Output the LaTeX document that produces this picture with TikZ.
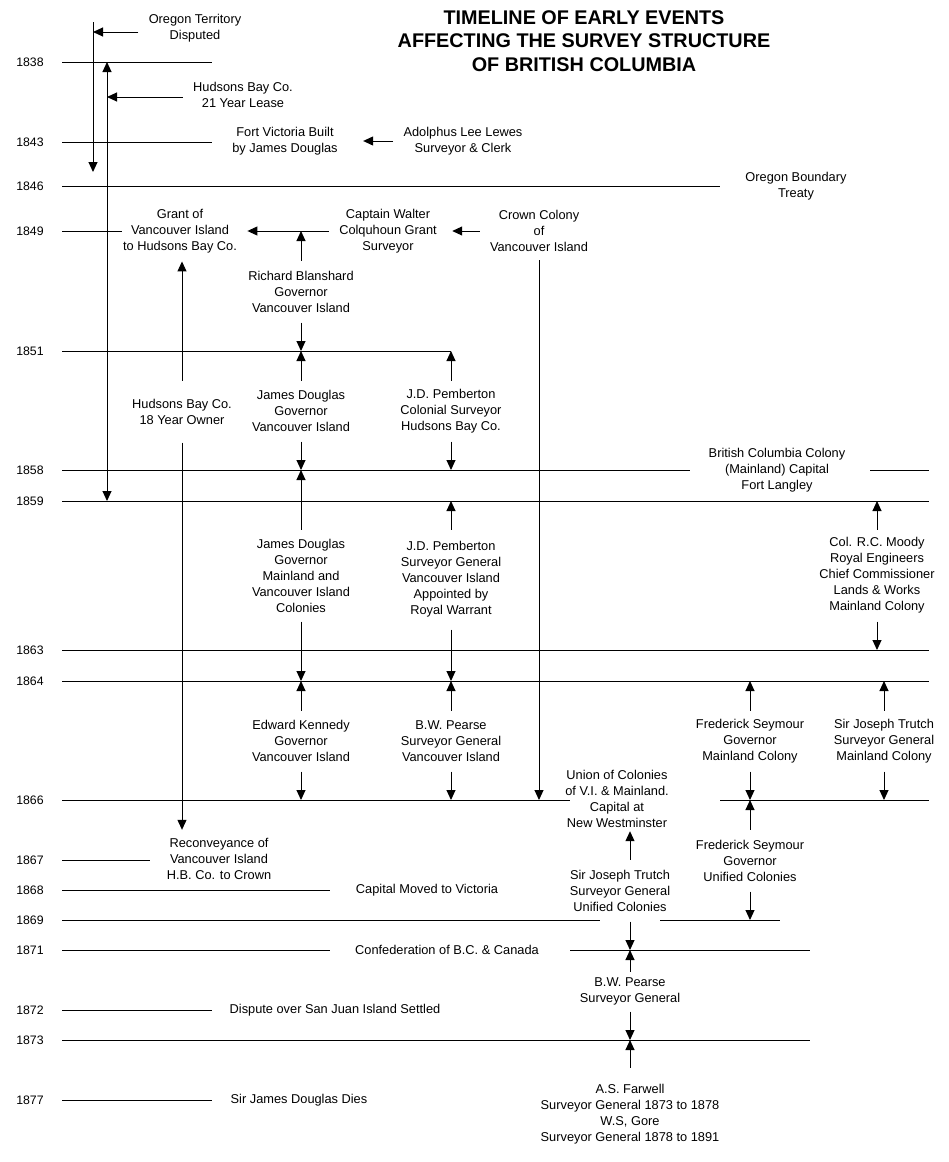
\documentclass[tikz,border=0pt]{standalone}
\usepackage{fontspec}
\setmainfont{Liberation Sans}
\usepackage{tikz}
\usetikzlibrary{arrows.meta}
\tikzset{
    event/.style = {
        align      = center,
        font       = \fontsize{12.8}{16}\selectfont,
        inner xsep = 10pt,
        inner ysep = 8pt,
    },
    tenure/.style = {
        event,
        inner ysep     = 2pt,
        minimum height = #1,
    },
    year/.style = {
        font      = \fontsize{12.3}{14}\selectfont,
        inner sep = 0pt,
    },
    headline/.style = {
        align = center,
        font  = \fontsize{19.8}{23.5}\selectfont\bfseries,
    },
    >={Triangle[length=10pt,width=9pt]},
}

\begin{document}
\begin{tikzpicture}[x=1pt,y=-1pt,line width=1pt]
  \fill[white] (0,0) rectangle (949,1162);
  \useasboundingbox (0,0) rectangle (949,1162);

  % Title
  \node[headline] (Title) at (584,41) {TIMELINE OF EARLY EVENTS\\AFFECTING THE SURVEY STRUCTURE\\OF BRITISH COLUMBIA};

  % Years
  \foreach \yr/\yy in {1838/62, 1843/142, 1846/186, 1849/231, 1851/351, 1858/470,
      1859/501, 1863/650, 1864/681, 1866/800, 1867/860, 1868/890, 1869/920,
      1871/950, 1872/1010, 1873/1040, 1877/1100}
    \node[year] (Y\yr) at (30,\yy) {\yr};

  % Year rules
  \foreach \yr/\xa/\xb in {1838/62/212, 1843/62/212, 1846/62/720, 1849/62/122,
      1851/62/451, 1858/62/690, 1858/870/929, 1859/62/929, 1863/62/929,
      1864/62/929, 1866/62/570, 1866/720/929, 1867/62/150, 1868/62/330,
      1869/62/600, 1869/660/780, 1871/62/330, 1871/570/810, 1872/62/212,
      1873/62/810, 1877/62/212}
    \draw[-,draw=black] (\xa,0 |- Y\yr) -- (\xb,0 |- Y\yr);

  % Oregon territory
  \node[event] (Oregon) at (195,28) {Oregon Territory\\Disputed};
  \coordinate (OregonTop) at (93,22);
  \coordinate (OregonMid) at (93,32);
  \coordinate (OregonEnd) at (93,172);
  \draw[->,draw=black] (OregonTop) to (OregonEnd);
  \draw[->,draw=black] (Oregon.west |- OregonMid) to (OregonMid);

  % Hudsons Bay lease
  \node[event] (Lease) at (243,95) {Hudsons Bay Co.\\21 Year Lease};
  \coordinate (LeaseTop) at (107,62);
  \coordinate (LeaseMid) at (107,97);
  \draw[<->,draw=black] (LeaseTop) to (LeaseTop |- Y1859);
  \draw[->,draw=black] (Lease.west |- LeaseMid) to (LeaseMid);

  % Fort Victoria
  \node[event] (FortVictoria) at (285,141) {Fort Victoria Built\\by James Douglas};
  \node[event] (Lewes) at (463,141) {Adolphus Lee Lewes\\Surveyor \& Clerk};
  \draw[->,draw=black,shorten >=15pt] (Lewes) to (FortVictoria);

  % Oregon treaty
  \node[event] (OregonTreaty) at (796,186) {Oregon Boundary\\Treaty};

  % Grant of Vancouver Island
  \node[event] (Grant) at (180,231) {Grant of\\Vancouver Island\\to Hudsons Bay Co.};
  \node[event] (Colquhoun) at (388,231) {Captain Walter\\Colquhoun Grant\\Surveyor};
  \node[event] (CrownColony) at (539,231) {Crown Colony\\of\\Vancouver Island};
  \draw[->,draw=black,shorten >=5pt] (CrownColony) to (Colquhoun);
  \draw[->,draw=black] (Colquhoun) to (Grant);
  \draw[->,draw=black] (CrownColony) to (CrownColony |- Y1866);

  % Blanshard
  \node[tenure=61pt] (Blanshard) at (301,291.5) {Richard Blanshard\\Governor\\Vancouver Island};
  \draw[->,draw=black] (Blanshard) to (Blanshard |- Y1849);
  \draw[->,draw=black] (Blanshard) to (Blanshard |- Y1851);

  % Hudsons Bay owner
  \node[tenure=61pt] (Owner) at (182,411.5) {Hudsons Bay Co.\\18 Year Owner};
  \node[event] (Reconveyance) at (219,859) {Reconveyance of\\Vancouver Island\\H.B. Co. to Crown};
  \draw[->,draw=black] (Owner) to (Owner |- Grant.south);
  \draw[->,draw=black] (Owner) to (Owner |- Reconveyance.north);

  % Douglas and Pemberton on the island
  \node[tenure=60pt] (DouglasIsland) at (301,411) {James Douglas\\Governor\\Vancouver Island};
  \node[tenure=60pt] (PembertonColonial) at (451,411) {J.D. Pemberton\\Colonial Surveyor\\Hudsons Bay Co.};
  \foreach \who in {DouglasIsland,PembertonColonial} {
    \draw[->,draw=black] (\who) to (\who |- Y1851);
    \draw[->,draw=black] (\who) to (\who |- Y1858);
  }

  % British Columbia colony
  \node[event] (MainlandColony) at (777,470) {British Columbia Colony\\(Mainland) Capital\\Fort Langley};

  % Both colonies
  \node[tenure=91pt] (DouglasBoth) at (301,575.5) {James Douglas\\Governor\\Mainland and\\Vancouver Island\\Colonies};
  \draw[->,draw=black] (DouglasBoth) to (DouglasBoth |- Y1858);
  \draw[->,draw=black] (DouglasBoth) to (DouglasBoth |- Y1864);
  \node[tenure=99pt] (PembertonGeneral) at (451,579.5) {J.D. Pemberton\\Surveyor General\\Vancouver Island\\Appointed by\\Royal Warrant};
  \draw[->,draw=black] (PembertonGeneral) to (PembertonGeneral |- Y1859);
  \draw[->,draw=black] (PembertonGeneral) to (PembertonGeneral |- Y1864);
  \node[tenure=91pt] (Moody) at (877,575.5) {Col. R.C. Moody\\Royal Engineers\\Chief Commissioner\\Lands \& Works\\Mainland Colony};
  \draw[->,draw=black] (Moody) to (Moody |- Y1859);
  \draw[->,draw=black] (Moody) to (Moody |- Y1863);

  % 1864 to 1866
  \node[tenure=60pt] (Kennedy) at (301,741) {Edward Kennedy\\Governor\\Vancouver Island};
  \node[tenure=60pt] (PearseIsland) at (451,741) {B.W. Pearse\\Surveyor General\\Vancouver Island};
  \node[tenure=60pt] (SeymourMainland) at (750,741) {Frederick Seymour\\Governor\\Mainland Colony};
  \node[tenure=60pt] (TrutchMainland) at (884,741) {Sir Joseph Trutch\\Surveyor General\\Mainland Colony};
  \foreach \who in {Kennedy,PearseIsland,SeymourMainland,TrutchMainland} {
    \draw[->,draw=black] (\who) to (\who |- Y1864);
    \draw[->,draw=black] (\who) to (\who |- Y1866);
  }

  % Union of colonies
  \node[event,inner ysep=3pt] (Union) at (617,799) {Union of Colonies\\of V.I. \& Mainland.\\Capital at\\New Westminster};
  \node[tenure=61pt] (SeymourUnified) at (750,860.5) {Frederick Seymour\\Governor\\Unified Colonies};
  \draw[->,draw=black] (SeymourUnified) to (SeymourUnified |- Y1866);
  \draw[->,draw=black] (SeymourUnified) to (SeymourUnified |- Y1869);
  \node[tenure=61pt] (TrutchUnified) at (620,890.5) {Sir Joseph Trutch\\Surveyor General\\Unified Colonies};
  \node[tenure=39pt] (PearseGeneral) at (630,991.5) {B.W. Pearse\\Surveyor General};
  \draw[->,draw=black] (TrutchUnified.north -| PearseGeneral) to (Union.south -| PearseGeneral);
  \draw[->,draw=black] (TrutchUnified.south -| PearseGeneral) to (PearseGeneral |- Y1871);
  \draw[->,draw=black] (PearseGeneral) to (PearseGeneral |- Y1871);
  \draw[->,draw=black] (PearseGeneral) to (PearseGeneral |- Y1873);
  \node[event,inner ysep=16pt] (Farwell) at (630,1114) {A.S. Farwell\\Surveyor General 1873 to 1878\\W.S, Gore\\Surveyor General 1878 to 1891};
  \draw[->,draw=black] (Farwell) to (Farwell |- Y1873);

  % Later events
  \node[event] (CapitalMoved) at (427,890) {Capital Moved to Victoria};
  \node[event] (Confederation) at (447,950) {Confederation of B.C. \& Canada};
  \node[event] (SanJuan) at (335,1010) {Dispute over San Juan Island Settled};
  \node[event] (DouglasDies) at (299,1100) {Sir James Douglas Dies};
\end{tikzpicture}
\end{document}
